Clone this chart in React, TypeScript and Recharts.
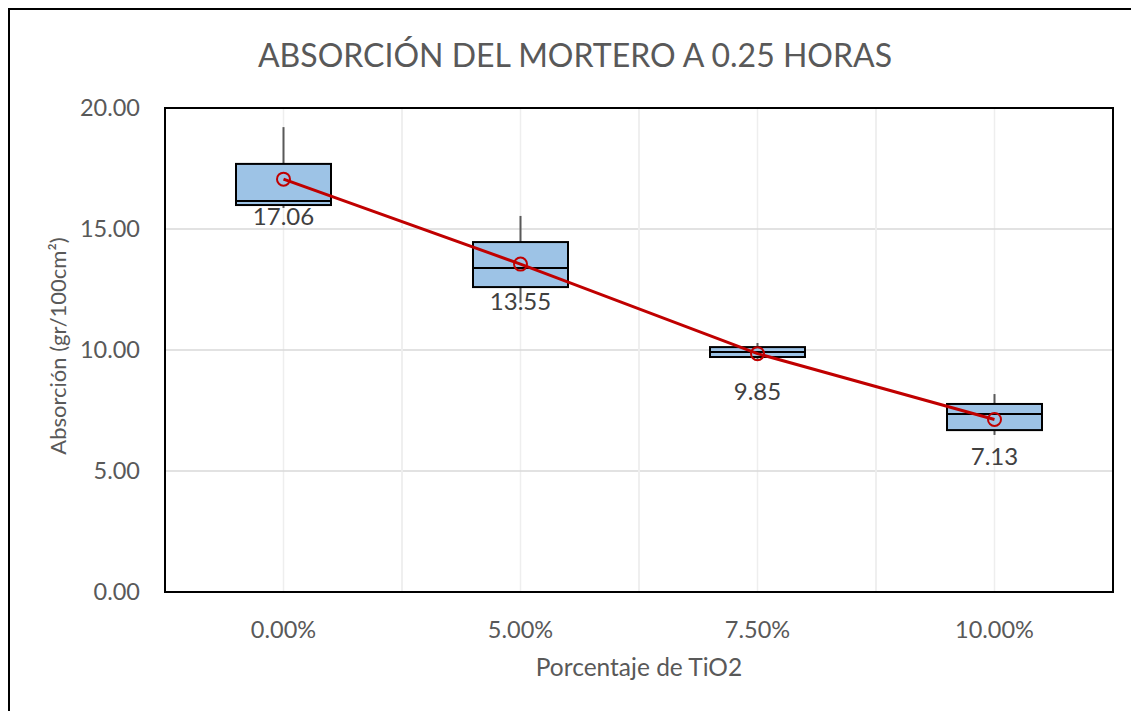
import React from "react";
import {
  ComposedChart,
  Bar,
  Line,
  XAxis,
  YAxis,
  CartesianGrid,
  LabelList,
  ReferenceArea,
} from "recharts";

const categories = ["0.00%", "5.00%", "7.50%", "10.00%"];
const minVals = [15.87, 11.95, 9.59, 6.49];
const q1Vals = [15.99, 12.6, 9.71, 6.69];
const medianVals = [16.16, 13.39, 9.92, 7.36];
const q3Vals = [17.69, 14.46, 10.12, 7.77];
const maxVals = [19.21, 15.54, 10.29, 8.18];
const meanVals = [17.06, 13.55, 9.85, 7.13];
const yTicks = [0, 5, 10, 15, 20];

const data = categories.map((c, i) => ({
  cat: c,
  range: [minVals[i], maxVals[i]],
  min: minVals[i],
  q1: q1Vals[i],
  median: medianVals[i],
  q3: q3Vals[i],
  max: maxVals[i],
  mean: meanVals[i],
}));

const FONT = "Lato, 'Open Sans', sans-serif";
const TEXT = "#595959";

const BoxShape = (props: any) => {
  const { x, y, width, height, payload } = props;
  if (payload == null || !isFinite(y) || !isFinite(height)) return null;
  const { min, max, q1, median, q3 } = payload;
  const k = height / (max - min);
  const py = (v: number) => y + (max - v) * k;
  const cx = x + width / 2;
  return (
    <g>
      <line x1={cx} x2={cx} y1={py(max)} y2={py(q3)} stroke="#595959" strokeWidth={2} />
      <line x1={cx} x2={cx} y1={py(q1)} y2={py(min)} stroke="#595959" strokeWidth={2} />
      <rect
        x={x}
        y={py(q3)}
        width={width}
        height={py(q1) - py(q3)}
        fill="#9DC3E6"
        stroke="#000"
        strokeWidth={2}
      />
      <line x1={x} x2={x + width} y1={py(median)} y2={py(median)} stroke="#000" strokeWidth={2} />
    </g>
  );
};

const MeanLabel = (props: any) => {
  const { x, y, value } = props;
  return (
    <text
      x={x}
      y={y + 46}
      textAnchor="middle"
      fill="#404040"
      fontSize={24}
      fontFamily={FONT}
    >
      {Number(value).toFixed(2)}
    </text>
  );
};

export default function App() {
  return (
    <div
      style={{
        position: "relative",
        width: 1131,
        height: 703,
        borderLeft: "2px solid #000",
        borderTop: "2px solid #000",
        boxSizing: "border-box",
        overflow: "hidden",
        background: "#fff",
      }}
    >
      <div
        style={{
          position: "absolute",
          left: 565,
          top: 25,
          transform: "translateX(-50%)",
          whiteSpace: "nowrap",
          fontFamily: FONT,
          fontSize: 32,
          color: TEXT,
        }}
      >
        ABSORCIÓN DEL MORTERO A 0.25 HORAS
      </div>
      <ComposedChart
        width={1129}
        height={701}
        data={data}
        margin={{ top: 98, right: 26, bottom: 0, left: 0 }}
      >
        <CartesianGrid horizontal={false} stroke="#eeeeee" strokeWidth={1.5} />
        <CartesianGrid vertical={false} stroke="#d9d9d9" strokeWidth={1.5} />
        {categories.map((c) => (
          <ReferenceArea
            key={c}
            x1={c}
            x2={c}
            y1={0}
            y2={20}
            fill="none"
            fillOpacity={0}
            stroke="#eeeeee"
            strokeWidth={1.5}
            ifOverflow="visible"
          />
        ))}
        <XAxis
          dataKey="cat"
          height={119}
          tickLine={false}
          tickSize={0}
          tickMargin={29}
          axisLine={{ stroke: "#000", strokeWidth: 2 }}
          tick={{ fill: TEXT, fontSize: 23.5, fontFamily: FONT }}
          label={(p: any) => {
            const vb = p.viewBox;
            return (
              <text
                x={vb.x + vb.width / 2}
                y={vb.y + 84}
                textAnchor="middle"
                fill={TEXT}
                fontSize={24.5}
                fontFamily={FONT}
              >
                Porcentaje de TiO2
              </text>
            );
          }}
        />
        <YAxis
          domain={[0, 20]}
          ticks={yTicks}
          width={155}
          tickLine={false}
          tickSize={0}
          tickMargin={25}
          axisLine={{ stroke: "#000", strokeWidth: 2 }}
          tickFormatter={(v: number) => v.toFixed(2)}
          tick={{ fill: TEXT, fontSize: 23.5, fontFamily: FONT }}
          label={(p: any) => {
            const vb = p.viewBox;
            const cx = 47;
            const cy = vb.y + vb.height / 2 - 4;
            return (
              <text
                x={cx}
                y={cy}
                textAnchor="middle"
                dominantBaseline="central"
                transform={`rotate(-90 ${cx} ${cy})`}
                fill={TEXT}
                fontSize={22}
                fontFamily={FONT}
              >
                Absorción (gr/100cm²)
              </text>
            );
          }}
        />
        <ReferenceArea
          y1={0}
          y2={20}
          fill="none"
          fillOpacity={0}
          stroke="#000"
          strokeWidth={2}
          ifOverflow="visible"
        />
        <Bar
          dataKey="range"
          barSize={95}
          shape={BoxShape}
          isAnimationActive={false}
        />
        <Line
          dataKey="mean"
          stroke="#C00000"
          strokeWidth={3}
          dot={{ r: 6.5, stroke: "#C00000", strokeWidth: 2, fill: "none" }}
          activeDot={false}
          isAnimationActive={false}
        >
          <LabelList dataKey="mean" content={MeanLabel} />
        </Line>
      </ComposedChart>
    </div>
  );
}
